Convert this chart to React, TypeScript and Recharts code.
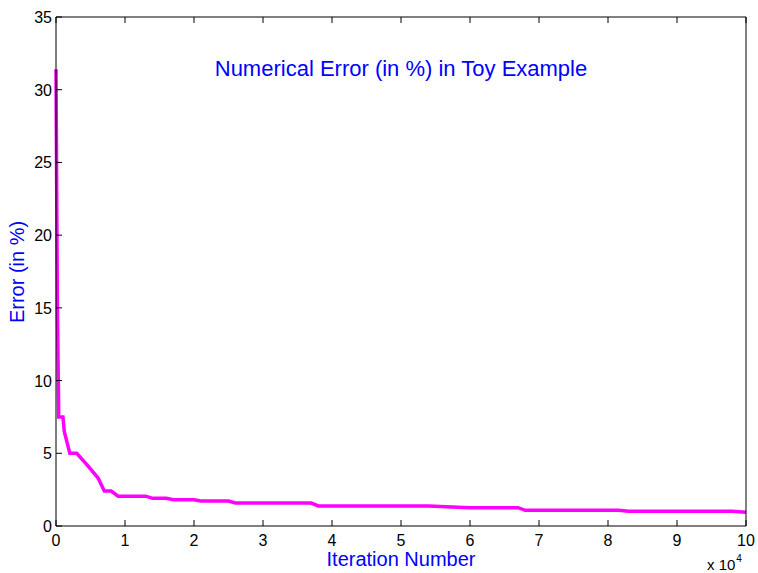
import React from "react";
import { LineChart, Line, XAxis, YAxis, CartesianGrid } from "recharts";

// iteration number in units of 10^4, error in %
const iterations = [
  0, 0.02, 0.04, 0.1, 0.12, 0.2, 0.3, 0.45, 0.61, 0.7, 0.8, 0.9, 1.3, 1.4,
  1.6, 1.7, 2.0, 2.1, 2.5, 2.6, 3.7, 3.8, 5.4, 6.0, 6.7, 6.8, 8.15, 8.3, 9.8, 10,
];
const errors = [
  31.4, 15, 7.5, 7.5, 6.5, 5.0, 5.0, 4.2, 3.3, 2.4, 2.4, 2.05, 2.05, 1.9,
  1.9, 1.8, 1.8, 1.72, 1.72, 1.58, 1.58, 1.38, 1.38, 1.26, 1.26, 1.08, 1.08,
  1.02, 1.02, 0.95,
];
const xTicks = [0, 1, 2, 3, 4, 5, 6, 7, 8, 9, 10];
const yTicks = [0, 5, 10, 15, 20, 25, 30, 35];

const data = iterations.map((x, i) => ({ x, err: errors[i] }));

const FONT = "'Liberation Sans', Arial, Helvetica, sans-serif";
const TICK_LEN = 6;

function BottomTick(props: any) {
  const { x, y, payload } = props;
  return (
    <g>
      <line x1={x} y1={y} x2={x} y2={y - TICK_LEN} stroke="#000" />
      <text x={x} y={y + 20} textAnchor="middle" fontSize={16} fontFamily={FONT} fill="#000">
        {payload.value}
      </text>
    </g>
  );
}

function TopTick(props: any) {
  const { x, y } = props;
  return <line x1={x} y1={y} x2={x} y2={y + TICK_LEN} stroke="#000" />;
}

function LeftTick(props: any) {
  const { x, y, payload } = props;
  return (
    <g>
      <line x1={x} y1={y} x2={x + TICK_LEN} y2={y} stroke="#000" />
      <text x={x - 4} y={y + 6} textAnchor="end" fontSize={16} fontFamily={FONT} fill="#000">
        {payload.value}
      </text>
    </g>
  );
}

function RightTick(props: any) {
  const { x, y } = props;
  return <line x1={x} y1={y} x2={x - TICK_LEN} y2={y} stroke="#000" />;
}

export default function App() {
  return (
    <div style={{ position: "absolute", left: 0, top: 0, width: 758, height: 573, background: "#fff", overflow: "hidden" }}>
      <LineChart
        width={758}
        height={573}
        data={data}
        margin={{ top: 0, right: 0, bottom: 0, left: 0 }}
      >
        <CartesianGrid horizontal={false} vertical={false} fill="#fff" />
        <XAxis
          xAxisId="bottom"
          dataKey="x"
          type="number"
          domain={[0, 10]}
          ticks={xTicks}
          height={47}
          tickSize={0}
          tickMargin={0}
          tickLine={false}
          stroke="#000"
          tick={<BottomTick />}
          interval={0}
        />
        <XAxis
          xAxisId="top"
          orientation="top"
          dataKey="x"
          type="number"
          domain={[0, 10]}
          ticks={xTicks}
          height={17}
          tickSize={0}
          tickMargin={0}
          tickLine={false}
          stroke="#000"
          tick={<TopTick />}
          interval={0}
        />
        <YAxis
          yAxisId="left"
          type="number"
          domain={[0, 35]}
          ticks={yTicks}
          width={56}
          tickSize={0}
          tickMargin={0}
          tickLine={false}
          stroke="#000"
          tick={<LeftTick />}
          interval={0}
        />
        <YAxis
          yAxisId="right"
          orientation="right"
          type="number"
          domain={[0, 35]}
          ticks={yTicks}
          width={12}
          tickSize={0}
          tickMargin={0}
          tickLine={false}
          stroke="#000"
          tick={<RightTick />}
          interval={0}
        />
        <Line
          xAxisId="bottom"
          yAxisId="left"
          type="linear"
          dataKey="err"
          stroke="#ff00ff"
          strokeWidth={3.5}
          dot={false}
          isAnimationActive={false}
        />
      </LineChart>
      <div
        style={{
          position: "absolute",
          left: 56,
          width: 690,
          top: 58,
          lineHeight: "22px",
          textAlign: "center",
          fontFamily: FONT,
          fontSize: 22,
          color: "#0000ff",
          whiteSpace: "nowrap",
        }}
      >
        Numerical Error (in %) in Toy Example
      </div>
      <div
        style={{
          position: "absolute",
          left: 56,
          width: 690,
          top: 549,
          lineHeight: "20px",
          textAlign: "center",
          fontFamily: FONT,
          fontSize: 20,
          color: "#0000ff",
          whiteSpace: "nowrap",
        }}
      >
        Iteration Number
      </div>
      <div
        style={{
          position: "absolute",
          left: 17,
          top: 272,
          lineHeight: "20px",
          transform: "translate(-50%, -50%) rotate(-90deg)",
          fontFamily: FONT,
          fontSize: 20,
          color: "#0000ff",
          whiteSpace: "nowrap",
        }}
      >
        Error (in %)
      </div>
      <div
        style={{
          position: "absolute",
          left: 707,
          top: 557,
          height: 16,
          lineHeight: "16px",
          fontFamily: FONT,
          fontSize: 15,
          color: "#000",
          whiteSpace: "nowrap",
        }}
      >
        x 10
        <span style={{ fontSize: 10, lineHeight: "0px", position: "relative", top: -8, marginLeft: 1 }}>4</span>
      </div>
    </div>
  );
}
